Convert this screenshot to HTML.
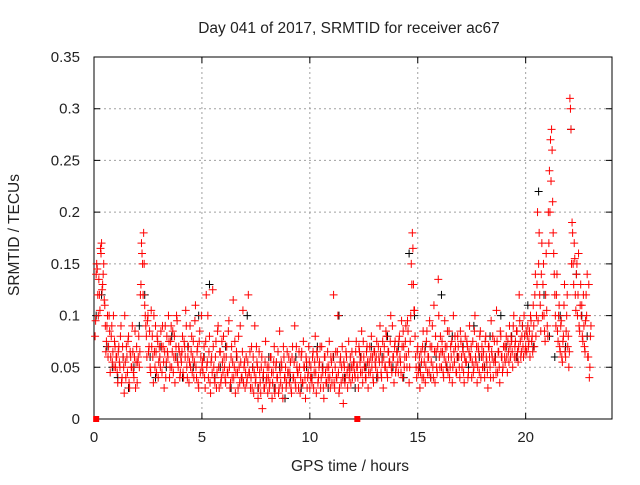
<!DOCTYPE html>
<html><head><meta charset="utf-8"><style>
body{margin:0;background:#fff}
svg text{font-family:"Liberation Sans",sans-serif;fill:#222}
</style></head><body>
<svg id="chart" width="640" height="480" xmlns="http://www.w3.org/2000/svg">
<rect width="640" height="480" fill="#fff"/>
<text x="349" y="33" font-size="15.5" text-anchor="middle">Day 041 of 2017, SRMTID for receiver ac67</text>
<g id="grid"></g>
<g id="axes"></g>
<g id="marks"></g>
<text transform="translate(19,235) rotate(-90)" font-size="15.5" text-anchor="middle">SRMTID / TECUs</text>
<text x="350" y="471" font-size="15.5" text-anchor="middle">GPS time / hours</text>
</svg>
<script>
const xTicks=[0,5,10,15,20];
const yTicks=[0,0.05,0.1,0.15,0.2,0.25,0.3,0.35];
const yTickLabels=["0","0.05","0.1","0.15","0.2","0.25","0.3","0.35"];
const redStartHour=0.05, redStepHour=0.05;
const redValues=[
0.08,0.14,0.145,0.10,0.12,0.165,0.17,0.13,0.15,0.11,0.065,0.09,0.06,0.10,0.045,0.08,0.055,0.10,0.075,0.05,
0.06,0.035,0.07,0.05,0.09,0.04,0.06,0.025,0.055,0.07,0.045,0.08,0.03,0.06,0.05,0.065,0.04,0.085,0.055,0.035,
0.06,0.05,0.12,0.17,0.15,0.18,0.11,0.09,0.06,0.10,0.07,0.05,0.105,0.08,0.035,0.065,0.09,0.045,0.075,0.055,
0.06,0.085,0.045,0.07,0.03,0.09,0.055,0.065,0.10,0.04,0.075,0.05,0.085,0.06,0.035,0.07,0.095,0.05,0.065,0.045,
0.055,0.08,0.04,0.07,0.105,0.05,0.06,0.035,0.09,0.065,0.045,0.075,0.055,0.11,0.04,0.07,0.03,0.085,0.06,0.05,
0.045,0.07,0.03,0.12,0.055,0.04,0.08,0.025,0.06,0.125,0.05,0.035,0.075,0.045,0.09,0.03,0.065,0.04,0.055,0.08,
0.05,0.035,0.07,0.045,0.095,0.03,0.06,0.04,0.115,0.05,0.025,0.065,0.045,0.08,0.035,0.055,0.04,0.105,0.05,0.03,
0.06,0.04,0.12,0.045,0.03,0.07,0.05,0.025,0.09,0.04,0.055,0.02,0.065,0.035,0.05,0.01,0.045,0.03,0.075,0.04,
0.025,0.05,0.035,0.06,0.02,0.045,0.07,0.03,0.055,0.04,0.025,0.085,0.035,0.05,0.02,0.06,0.04,0.03,0.065,0.045,
0.035,0.055,0.025,0.07,0.04,0.09,0.03,0.05,0.045,0.065,0.025,0.06,0.035,0.075,0.05,0.02,0.055,0.04,0.07,0.03,
0.05,0.035,0.065,0.045,0.08,0.025,0.06,0.04,0.055,0.03,0.07,0.045,0.02,0.06,0.035,0.05,0.04,0.075,0.03,0.055,
0.045,0.12,0.03,0.065,0.04,0.1,0.025,0.055,0.035,0.07,0.015,0.05,0.04,0.06,0.03,0.075,0.045,0.035,0.065,0.05,
0.055,0.04,0.075,0.05,0.03,0.065,0.045,0.085,0.035,0.06,0.05,0.04,0.07,0.03,0.055,0.045,0.08,0.06,0.035,0.065,
0.05,0.075,0.04,0.06,0.09,0.045,0.055,0.03,0.07,0.05,0.08,0.04,0.065,0.055,0.1,0.045,0.06,0.035,0.075,0.05,
0.065,0.045,0.08,0.055,0.095,0.04,0.07,0.06,0.09,0.05,0.085,0.035,0.075,0.15,0.18,0.13,0.105,0.06,0.04,0.07,
0.05,0.03,0.065,0.04,0.085,0.055,0.035,0.075,0.045,0.06,0.095,0.04,0.07,0.05,0.11,0.035,0.065,0.045,0.135,0.06,
0.08,0.05,0.065,0.04,0.095,0.055,0.07,0.045,0.085,0.05,0.06,0.035,0.1,0.055,0.07,0.045,0.08,0.06,0.04,0.075,
0.05,0.065,0.035,0.08,0.055,0.07,0.045,0.09,0.06,0.04,0.075,0.05,0.1,0.055,0.035,0.07,0.045,0.085,0.06,0.05,
0.065,0.04,0.08,0.055,0.03,0.07,0.05,0.095,0.06,0.04,0.075,0.055,0.105,0.045,0.065,0.035,0.08,0.06,0.05,0.07,
0.055,0.08,0.045,0.065,0.09,0.06,0.075,0.05,0.1,0.07,0.06,0.085,0.055,0.12,0.075,0.065,0.09,0.06,0.08,0.07,
0.065,0.09,0.075,0.06,0.095,0.08,0.11,0.07,0.14,0.1,0.2,0.15,0.12,0.085,0.17,0.13,0.1,0.075,0.16,0.09,
0.2,0.24,0.27,0.28,0.21,0.16,0.12,0.09,0.14,0.075,0.11,0.065,0.095,0.055,0.08,0.13,0.06,0.1,0.07,0.05,
0.31,0.28,0.19,0.15,0.17,0.12,0.14,0.1,0.16,0.085,0.13,0.11,0.075,0.09,0.065,0.12,0.14,0.06,0.04,0.08
];
const red2StartHour=0.075, red2StepHour=0.05;
const red2Values=[
0.095,0.15,0.12,0.135,0.105,0.16,0.125,0.14,0.115,0.09,0.075,0.1,0.07,0.085,0.06,0.09,0.065,0.05,0.07,0.06,
0.045,0.065,0.055,0.08,0.035,0.07,0.05,0.1,0.04,0.06,0.075,0.035,0.065,0.05,0.09,0.045,0.06,0.03,0.07,0.055,
0.08,0.065,0.13,0.16,0.12,0.15,0.1,0.08,0.095,0.065,0.085,0.045,0.07,0.06,0.1,0.05,0.065,0.08,0.04,0.07,
0.05,0.07,0.09,0.055,0.065,0.04,0.08,0.06,0.075,0.05,0.09,0.065,0.045,0.08,0.06,0.1,0.055,0.07,0.04,0.06,
0.065,0.045,0.075,0.06,0.09,0.04,0.07,0.055,0.05,0.08,0.06,0.04,0.095,0.05,0.065,0.035,0.075,0.045,0.1,0.055,
0.06,0.04,0.075,0.05,0.1,0.065,0.035,0.055,0.045,0.07,0.04,0.06,0.03,0.085,0.05,0.065,0.035,0.075,0.045,0.06,
0.04,0.06,0.045,0.085,0.05,0.035,0.07,0.055,0.04,0.075,0.045,0.06,0.03,0.05,0.09,0.04,0.065,0.035,0.055,0.045,
0.035,0.055,0.045,0.065,0.04,0.03,0.06,0.045,0.035,0.07,0.05,0.03,0.045,0.025,0.06,0.04,0.03,0.055,0.035,0.05,
0.04,0.03,0.06,0.045,0.035,0.055,0.025,0.05,0.04,0.065,0.03,0.045,0.055,0.03,0.07,0.04,0.05,0.035,0.045,0.06,
0.045,0.03,0.06,0.04,0.055,0.035,0.07,0.045,0.03,0.05,0.04,0.065,0.035,0.05,0.04,0.06,0.03,0.045,0.055,0.04,
0.04,0.06,0.03,0.055,0.045,0.065,0.035,0.05,0.07,0.04,0.05,0.03,0.06,0.045,0.035,0.065,0.05,0.04,0.06,0.035,
0.06,0.035,0.05,0.04,0.065,0.045,0.03,0.06,0.05,0.04,0.055,0.035,0.065,0.045,0.05,0.04,0.06,0.05,0.04,0.055,
0.045,0.065,0.05,0.04,0.07,0.055,0.06,0.045,0.075,0.05,0.04,0.065,0.055,0.045,0.07,0.06,0.05,0.04,0.065,0.055,
0.06,0.045,0.07,0.055,0.065,0.04,0.075,0.06,0.05,0.085,0.045,0.065,0.055,0.075,0.05,0.09,0.06,0.07,0.045,0.065,
0.055,0.075,0.06,0.045,0.07,0.085,0.05,0.075,0.06,0.095,0.065,0.05,0.1,0.13,0.165,0.105,0.08,0.05,0.065,0.045,
0.06,0.045,0.055,0.07,0.04,0.065,0.05,0.085,0.06,0.045,0.07,0.055,0.09,0.04,0.065,0.08,0.05,0.07,0.1,0.05,
0.065,0.075,0.045,0.06,0.07,0.05,0.085,0.06,0.04,0.07,0.075,0.05,0.065,0.08,0.045,0.06,0.07,0.05,0.085,0.06,
0.07,0.045,0.06,0.055,0.075,0.04,0.065,0.06,0.07,0.055,0.045,0.085,0.06,0.07,0.05,0.065,0.08,0.04,0.07,0.06,
0.05,0.075,0.06,0.045,0.07,0.06,0.04,0.065,0.08,0.055,0.06,0.045,0.075,0.065,0.05,0.085,0.06,0.045,0.07,0.06,
0.07,0.06,0.075,0.055,0.07,0.08,0.065,0.09,0.06,0.075,0.085,0.065,0.07,0.095,0.06,0.08,0.07,0.1,0.065,0.085,
0.08,0.07,0.085,0.1,0.075,0.065,0.09,0.12,0.08,0.13,0.095,0.18,0.11,0.14,0.1,0.15,0.085,0.12,0.105,0.08,
0.17,0.2,0.23,0.26,0.18,0.14,0.1,0.12,0.085,0.1,0.07,0.09,0.06,0.075,0.11,0.065,0.085,0.12,0.08,0.065,
0.3,0.15,0.18,0.13,0.155,0.105,0.15,0.12,0.09,0.11,0.1,0.08,0.12,0.07,0.095,0.1,0.06,0.13,0.05,0.09
];
const blackStartHour=0.1, blackStepHour=0.25;
const blackValues=[
0.1,0.12,0.07,0.05,0.04,0.06,0.03,0.05,0.09,0.12,0.06,0.04,0.07,0.05,0.08,0.06,0.04,0.07,0.05,0.1,
0.06,0.13,0.04,0.05,0.07,0.03,0.06,0.04,0.1,0.05,0.03,0.04,0.06,0.03,0.05,0.02,0.04,0.06,0.03,0.05,
0.04,0.07,0.05,0.03,0.06,0.1,0.04,0.05,0.03,0.06,0.05,0.07,0.04,0.06,0.08,0.05,0.07,0.04,0.16,0.1,
0.05,0.07,0.04,0.06,0.12,0.05,0.08,0.06,0.07,0.05,0.09,0.06,0.05,0.08,0.06,0.1,0.07,0.08,0.06,0.09,
0.11,0.07,0.22,0.12,0.08,0.06,0.1,0.07,0.28,0.14,0.1,0.08
];
const zeroMarkerHours=[0.1,12.2];

const NS='http://www.w3.org/2000/svg';
const L=94,R=612,T=57,B=419;
const xMax=24,yMax=0.35;
const sx=h=>L+h/xMax*(R-L);
const sy=v=>B-v/yMax*(B-T);
const grid=document.getElementById('grid'),axes=document.getElementById('axes'),marks=document.getElementById('marks');
function mk(tag,attrs,parent){const e=document.createElementNS(NS,tag);for(const k in attrs)e.setAttribute(k,attrs[k]);parent.appendChild(e);return e;}
xTicks.forEach(t=>{
  const x=sx(t);
  if(t>0){const g=mk('line',{x1:x,x2:x,y1:T,y2:B,stroke:'#a0a0a0','stroke-dasharray':'2,3'},grid);
  
  }
  const tk=mk('path',{d:`M${x},${B}v-6M${x},${T}v6`,stroke:'#000'},axes);
  
  
  const lb=mk('text',{x:x,y:B+23,'font-size':15,'text-anchor':'middle'},axes);lb.textContent=t;
  
  
});
yTicks.forEach((v,i)=>{
  const y=sy(v);
  if(v>0&&v<yMax){const g=mk('line',{x1:L,x2:R,y1:y,y2:y,stroke:'#a0a0a0','stroke-dasharray':'2,3'},grid);
  
  }
  const tk=mk('path',{d:`M${L},${y}h6M${R},${y}h-6`,stroke:'#000'},axes);
  
  
  const lb=mk('text',{x:L-14,y:y+5,'font-size':15,'text-anchor':'end'},axes);lb.textContent=yTickLabels[i];
  
  
});
const frame=mk('rect',{x:L,y:T,width:R-L,height:B-T,fill:'none',stroke:'#000'},axes);


function plus(vals,start,step,color,name){
  let d='';
  vals.forEach((v,i)=>{const x=sx(start+i*step),y=sy(v);d+=`M${x-4},${y}h8M${x},${y-4}v8`;});
  const p=mk('path',{d:d,stroke:color,'stroke-width':1,fill:'none'},marks);
  
  
}
plus(blackValues,blackStartHour,blackStepHour,'#000','black-series-points');
plus(redValues,redStartHour,redStepHour,'#ff0000','red-series-points');
plus(red2Values,red2StartHour,red2StepHour,'#ff0000','red-series-points-2');
zeroMarkerHours.forEach(h=>{
  const r=mk('rect',{x:sx(h)-3,y:B-3,width:6,height:6,fill:'#ff0000'},marks);
  
  
});
</script>
</body></html>
